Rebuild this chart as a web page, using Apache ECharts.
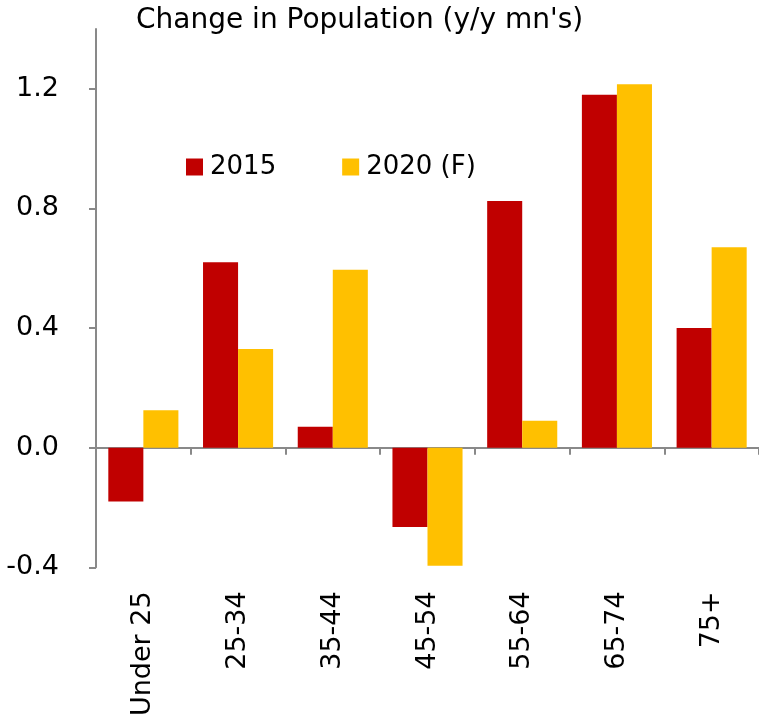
<!DOCTYPE html>
<html>
<head>
<meta charset="utf-8">
<script src="https://cdn.jsdelivr.net/npm/echarts@6/dist/echarts.min.js"></script>
<style>
  html, body { margin: 0; padding: 0; background: #fff; }
  #chart { width: 759px; height: 719px; }
</style>
</head>
<body>
<div id="chart"></div>
<script>
// categories and values (y/y change, millions)
var ageGroups = ['Under 25', '25-34', '35-44', '45-54', '55-64', '65-74', '75+'];
var values2015 = [-0.18, 0.62, 0.07, -0.265, 0.825, 1.18, 0.40];
var values2020 = [0.125, 0.33, 0.595, -0.395, 0.09, 1.215, 0.67];
var yTicks = [-0.4, 0.0, 0.4, 0.8, 1.2];

var fontName = 'DejaVu Sans';
var axisGrey = '#898989';

var chart = echarts.init(document.getElementById('chart'));

var option = {
    animation: false,
    title: {
        text: "Change in Population (y/y mn's)",
        left: 131,
        top: 2,
        textStyle: { fontFamily: fontName, fontSize: 28, fontWeight: 'normal', color: '#000' }
    },
    legend: {
        left: 181,
        top: 149,
        itemWidth: 17,
        itemHeight: 17,
        itemGap: 66,
        icon: 'rect',
        textStyle: { fontFamily: fontName, fontSize: 26, color: '#000', padding: [0, 0, 0, 2] },
        data: ['2015', '2020 (F)']
    },
    grid: { left: 96, top: 29, width: 665, height: 540, containLabel: false },
    xAxis: [{
        type: 'category',
        data: ageGroups,
        axisLine: { onZero: true, lineStyle: { color: axisGrey, width: 2 } },
        axisTick: { show: true, length: 7, lineStyle: { color: axisGrey, width: 2 } },
        axisLabel: { show: false }
    }, {
        type: 'category',
        data: ageGroups,
        position: 'bottom',
        axisLine: { show: false, onZero: false },
        axisTick: { show: false },
        axisLabel: {
            rotate: 90,
            margin: 24,
            fontFamily: fontName,
            fontSize: 27,
            color: '#000'
        }
    }],
    yAxis: {
        type: 'value',
        min: -0.4,
        max: 1.4,
        interval: 0.4,
        splitLine: { show: false },
        axisLine: { show: true, lineStyle: { color: axisGrey, width: 2 } },
        axisTick: { show: true, inside: false, length: 7, customValues: yTicks, lineStyle: { color: axisGrey, width: 2 } },
        axisLabel: {
            customValues: yTicks,
            margin: 37,
            fontFamily: fontName,
            fontSize: 27,
            color: '#000',
            formatter: function (v) { return v.toFixed(1); }
        }
    },
    series: [{
        name: '2015',
        type: 'bar',
        xAxisIndex: 0,
        data: values2015,
        barGap: '0%',
        barCategoryGap: '26%',
        itemStyle: { color: '#C00000' }
    }, {
        name: '2020 (F)',
        type: 'bar',
        xAxisIndex: 0,
        data: values2020,
        itemStyle: { color: '#FFC000' }
    }]
};

chart.setOption(option);
</script>
</body>
</html>
